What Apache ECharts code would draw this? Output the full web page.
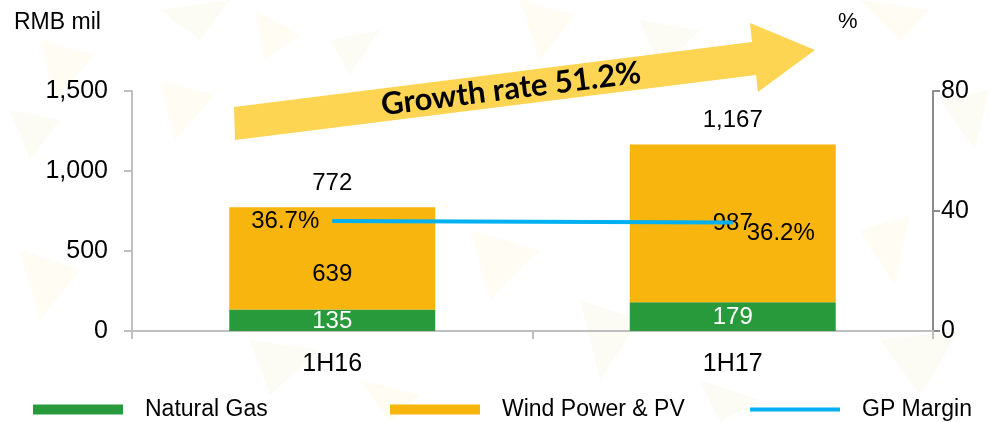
<!DOCTYPE html>
<html>
<head>
    <meta charset="utf-8">
    <title>Revenue by segment</title>
    <script src="https://cdn.jsdelivr.net/npm/echarts@6/dist/echarts.min.js"></script>
    <style type="text/css">
        html, body { margin: 0; padding: 0; background: #fff; }
        #chart { width: 989px; height: 422px; }
    </style>
</head>
<body>
<div id="chart"></div>
<script>
    // data
    var periods = ['1H16', '1H17'];
    var naturalGas = [135, 179];
    var windPv = [639, 987];
    var totals = [772, 1167];
    var gpMargin = [36.7, 36.2];
    var growthText = 'Growth rate 51.2%';

    var FONT = '"Liberation Sans", Arial, sans-serif';
    var GREEN = '#299a3c', YELLOW = '#f8b50e', BLUE = '#00b0f0';

    // faint triangle texture in the background
    var bgTris = [
        [[40, 40], [95, 55], [55, 100]], [[160, 10], [230, 0], [200, 40]],
        [[160, 80], [215, 95], [175, 140]], [[10, 110], [60, 120], [30, 160]],
        [[255, 10], [300, 35], [265, 60]], [[330, 40], [380, 30], [350, 75]],
        [[520, 0], [575, 15], [540, 60]], [[640, 20], [700, 30], [660, 70]],
        [[860, 0], [930, 10], [900, 40]], [[940, 100], [989, 90], [975, 150]],
        [[20, 250], [80, 270], [40, 320]], [[250, 340], [320, 350], [270, 395]],
        [[470, 230], [540, 250], [490, 300]], [[580, 300], [640, 320], [600, 380]],
        [[860, 230], [910, 215], [895, 285]], [[880, 340], [960, 330], [920, 395]],
        [[360, 380], [420, 395], [390, 422]], [[700, 380], [760, 400], [720, 422]]
    ];
    var graphics = bgTris.map(function (t, i) {
        return {
            type: 'polygon', z: -10, silent: true,
            shape: {points: t},
            style: {fill: i % 2 ? 'rgba(236,240,195,0.18)' : 'rgba(250,240,190,0.18)'}
        };
    });
    graphics.push(
        {type: 'text', left: 14, top: 11, style: {text: 'RMB mil', font: '23px ' + FONT, fill: '#000'}},
        {type: 'text', left: 838, top: 11, style: {text: '%', font: '22px ' + FONT, fill: '#000'}},
        {
            type: 'polygon', z: 5,
            shape: {points: [[235, 140], [234, 107], [752, 42], [750, 23], [815, 50], [758, 92], [756, 75]]},
            style: {fill: '#fed553'}
        },
        {
            type: 'text', z: 6, x: 511, y: 89, rotation: 7.2 * Math.PI / 180,
            style: {
                text: growthText, font: 'bold 31px Lato, "Open Sans", sans-serif',
                fill: '#000', align: 'center', verticalAlign: 'middle'
            }
        }
    );

    var legendText = {fontFamily: FONT, fontSize: 23, color: '#000', padding: [0, 0, 0, 17]};

    var chart = echarts.init(document.getElementById('chart'));
    var option = {
        animation: false,
        backgroundColor: '#fff',
        textStyle: {fontFamily: FONT},
        grid: {left: 132, right: 56, top: 91, bottom: 91},
        legend: [
            {data: ['Natural Gas'], left: 28, top: 393, icon: 'rect', itemWidth: 90, itemHeight: 10, textStyle: legendText},
            {data: ['Wind Power & PV'], left: 385, top: 393, icon: 'rect', itemWidth: 90, itemHeight: 10, textStyle: legendText},
            {data: ['GP Margin'], left: 745, top: 393, icon: 'rect', itemWidth: 90, itemHeight: 4, textStyle: legendText}
        ],
        graphic: graphics,
        xAxis: {
            type: 'category',
            data: periods,
            axisLine: {lineStyle: {color: '#bfbfbf', width: 2}},
            axisTick: {show: true, length: 8, lineStyle: {color: '#bfbfbf', width: 2}},
            axisLabel: {color: '#000', fontSize: 25, margin: 21}
        },
        yAxis: [
            {
                type: 'value', min: 0, max: 1500, interval: 500,
                axisLine: {show: true, lineStyle: {color: '#bfbfbf', width: 2}},
                axisTick: {show: true, length: 8, lineStyle: {color: '#bfbfbf', width: 2}},
                splitLine: {show: false},
                axisLabel: {
                    color: '#000', fontSize: 25, margin: 24,
                    formatter: function (v) { return v.toLocaleString('en-US'); }
                }
            },
            {
                type: 'value', min: 0, max: 80, interval: 40, position: 'right',
                axisLine: {show: true, lineStyle: {color: '#8c8c8c', width: 2}},
                axisTick: {show: true, length: 7, lineStyle: {color: '#8c8c8c', width: 2}},
                splitLine: {show: false},
                axisLabel: {color: '#000', fontSize: 25, margin: 8}
            }
        ],
        series: [
            {
                name: 'Natural Gas', type: 'bar', stack: 'rev', barWidth: 206,
                itemStyle: {color: GREEN},
                label: {show: true, position: 'inside', color: '#fff', fontSize: 24, offset: [0, 1]},
                data: naturalGas
            },
            {
                name: 'Wind Power & PV', type: 'bar', stack: 'rev', barWidth: 206,
                itemStyle: {color: YELLOW},
                label: {show: true, position: 'inside', color: '#000', fontSize: 24},
                data: windPv.map(function (v, i) {
                    return i === 0 ? {value: v, label: {offset: [0, 16]}} : v;
                })
            },
            {
                name: 'Total', type: 'scatter', symbolSize: 0, silent: true,
                itemStyle: {opacity: 1},
                label: {
                    show: true, position: 'top', distance: 12, color: '#000', fontSize: 24,
                    formatter: function (p) { return p.value.toLocaleString('en-US'); }
                },
                data: totals
            },
            {
                name: 'GP Margin', type: 'line', yAxisIndex: 1, z: 4,
                symbol: 'circle', symbolSize: 0,
                lineStyle: {color: BLUE, width: 4},
                itemStyle: {color: BLUE},
                label: {show: true, color: '#000', fontSize: 24, formatter: '{c}%'},
                data: gpMargin.map(function (v, i) {
                    return i === 0
                        ? {value: v, label: {position: 'left', distance: 13}}
                        : {value: v, label: {position: 'right', distance: 14, offset: [0, 11]}};
                })
            }
        ]
    };
    chart.setOption(option);
</script>
</body>
</html>
